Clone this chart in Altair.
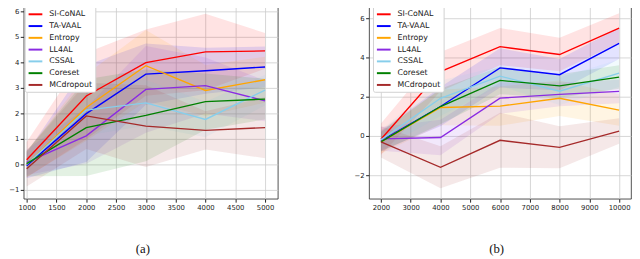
import altair as alt
import pandas as pd

METHODS = ["SI-CoNAL", "TA-VAAL", "Entropy", "LL4AL", "CSSAL", "Coreset", "MCdropout"]
COLORS = ["#ff0000", "#0000ff", "#ffa500", "#8a2be2", "#87ceeb", "#008000", "#a52a2a"]

# ---- panel (a) ----
A_X = [1000, 2000, 3000, 4000, 5000]
A_SI = [0.18, 2.68, 3.99, 4.41, 4.45]
A_TA = [-0.05, 1.99, 3.54, 3.67, 3.82]
A_ENT = [0.0, 2.23, 3.87, 2.90, 3.32]
A_LL = [0.08, 1.12, 2.94, 3.09, 2.49]
A_CS = [0.0, 2.13, 2.41, 1.76, 2.91]
A_CORE = [0.03, 1.44, 1.92, 2.46, 2.56]
A_MC = [-0.17, 1.90, 1.50, 1.33, 1.44]

A_SI_SD = [0.7, 1.7, 1.3, 1.5, 0.7]
A_TA_SD = [0.5, 1.9, 1.2, 0.9, 0.8]
A_ENT_SD = [0.5, 1.3, 1.4, 1.0, 0.9]
A_LL_SD = [0.5, 1.1, 1.7, 1.1, 0.8]
A_CS_SD = [0.5, 1.0, 0.9, 0.7, 0.6]
A_CORE_SD = [0.5, 1.9, 1.8, 1.1, 0.8]
A_MC_SD = [0.7, 1.3, 1.6, 0.75, 1.2]

# ---- panel (b) ----
B_X = [2000, 4000, 6000, 8000, 10000]
B_SI = [-0.17, 3.28, 4.55, 4.15, 5.50]
B_TA = [-0.25, 1.50, 3.47, 3.12, 4.72]
B_ENT = [-0.30, 1.45, 1.52, 1.92, 1.32]
B_LL = [-0.15, -0.08, 1.93, 2.12, 2.27]
B_CS = [-0.20, 1.92, 3.05, 2.28, 3.20]
B_CORE = [-0.30, 1.50, 2.83, 2.55, 3.00]
B_MC = [-0.30, -1.60, -0.22, -0.58, 0.25]

B_SI_SD = [0.8, 1.0, 0.95, 0.85, 0.75]
B_TA_SD = [0.5, 1.0, 1.0, 0.8, 0.8]
B_ENT_SD = [0.6, 0.9, 1.0, 0.9, 0.8]
B_LL_SD = [0.6, 0.9, 0.8, 0.6, 0.6]
B_CS_SD = [0.5, 0.9, 0.5, 0.7, 0.7]
B_CORE_SD = [0.5, 0.9, 0.7, 0.6, 0.6]
B_MC_SD = [0.8, 1.07, 1.4, 1.07, 0.65]

A_XTICKS = [1000, 1500, 2000, 2500, 3000, 3500, 4000, 4500, 5000]
A_YTICKS = [-1, 0, 1, 2, 3, 4, 5, 6]
B_XTICKS = [2000, 3000, 4000, 5000, 6000, 7000, 8000, 9000, 10000]
B_YTICKS = [-2, 0, 2, 4, 6]


def build_df(xs, means, sds):
    rows = []
    for k, (m, s) in enumerate(zip(means, sds)):
        for x, v, d in zip(xs, m, s):
            rows.append({"x": x, "method": METHODS[k], "mean": v,
                         "lo": v - d, "hi": v + d, "ord": k})
    return pd.DataFrame(rows)


def panel(df, xdom, ydom, xticks, yticks, caption, dx, width, legx):
    cscale = alt.Scale(domain=METHODS, range=COLORS)
    xenc = alt.X("x:Q", scale=alt.Scale(domain=xdom, nice=False, zero=False),
                 axis=alt.Axis(values=xticks, title=None, format="d"))
    band = alt.Chart(df).mark_area(opacity=0.11, clip=True).encode(
        x=xenc,
        y=alt.Y("lo:Q", stack=None, scale=alt.Scale(domain=ydom, nice=False, zero=False),
                axis=alt.Axis(values=yticks, title=None)),
        y2="hi:Q",
        color=alt.Color("method:N", scale=cscale, legend=None),
        order=alt.Order("ord:Q"),
    )
    line = alt.Chart(df).mark_line(strokeWidth=1.4, clip=True).encode(
        x=xenc,
        y=alt.Y("mean:Q", scale=alt.Scale(domain=ydom, nice=False, zero=False),
                axis=alt.Axis(values=yticks, title=None)),
        color=alt.Color("method:N", scale=cscale,
                        legend=alt.Legend(title=None, orient="none", legendX=legx, legendY=0,
                                          symbolType="stroke", symbolSize=196,
                                          symbolStrokeWidth=2, labelFontSize=8,
                                          labelFont="DejaVu Sans", labelColor="#222",
                                          labelOffset=6, rowPadding=-1.2, padding=3,
                                          strokeColor="#d0d0d0", fillColor="#ffffff",
                                          cornerRadius=2)),
    )
    return alt.layer(band, line).resolve_scale(color="independent").properties(
        width=width, height=199,
        title=alt.TitleParams(caption, orient="bottom", font="Liberation Serif",
                              fontSize=13, fontWeight="normal", color="#111",
                              offset=33, dx=dx),
    )


df_a = build_df(A_X, [A_SI, A_TA, A_ENT, A_LL, A_CS, A_CORE, A_MC],
                [A_SI_SD, A_TA_SD, A_ENT_SD, A_LL_SD, A_CS_SD, A_CORE_SD, A_MC_SD])
df_b = build_df(B_X, [B_SI, B_TA, B_ENT, B_LL, B_CS, B_CORE, B_MC],
                [B_SI_SD, B_TA_SD, B_ENT_SD, B_LL_SD, B_CS_SD, B_CORE_SD, B_MC_SD])

pa = panel(df_a, [950, 5214], [-1.35, 6.31], A_XTICKS, A_YTICKS, "(a)", -8, 259, 1)
pb = panel(df_b, [1600, 10400], [-3.2, 6.75], B_XTICKS, B_YTICKS, "(b)", -3.5, 267, 4)

chart = alt.hconcat(pa, pb, spacing=76).resolve_scale(color="independent").properties(
    padding={"left": 0, "top": -8, "right": 0, "bottom": 0}
).configure_view(
    stroke="#222", strokeWidth=0.8
).configure_axis(
    labelFont="DejaVu Sans", labelFontSize=7, labelColor="#222",
    tickColor="#222", tickSize=3.5, labelPadding=1.5, domain=False,
    gridColor="#cccccc", gridWidth=0.8,
)

chart.save("out.html", embed_options={"renderer": "svg", "actions": False})
